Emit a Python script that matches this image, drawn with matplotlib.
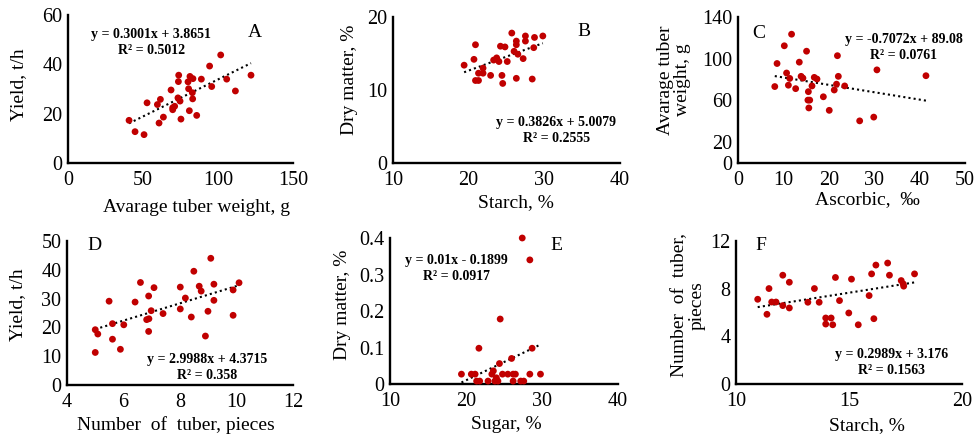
"""
Six-panel scatter grid (A-F): potato tuber traits with linear trendlines.
"""

import numpy as np
import matplotlib
matplotlib.use("Agg")
import matplotlib.pyplot as plt  # noqa: E402

plt.rcParams["font.family"] = ["Liberation Serif", "DejaVu Serif"]

DOT = "#c00000"

# --- A: average tuber weight (g) vs yield (t/h)
a_x = [40.7, 44.7, 50.7, 52.7, 59.6, 61.6, 60.7, 63.6, 68.7, 69.8, 71.1, 73.8,
       73.6, 73.3, 74.7, 75.3, 80.0, 80.4, 81.3, 83.3, 82.9, 83.1, 80.9, 85.8,
       88.9, 94.4, 95.8, 101.8, 105.8, 111.6, 122.0, 69.8]
a_y = [17.3, 12.7, 11.5, 24.4, 23.7, 25.8, 16.2, 18.6, 29.6, 21.6, 23.0, 35.6,
       33.0, 26.4, 25.1, 17.8, 32.9, 30.1, 35.1, 34.2, 28.5, 26.0, 21.2, 19.3,
       34.0, 39.3, 31.0, 43.8, 34.0, 29.2, 35.6, 22.4]
a_fit = (0.3001, 3.8651)

# --- B: starch (%) vs dry matter (%)
b_x = [19.4, 20.7, 20.9, 20.9, 21.3, 21.3, 21.9, 21.9, 22.9, 23.3, 23.7, 24.0,
       24.2, 24.4, 24.5, 24.8, 25.1, 25.7, 26.0, 26.3, 26.3, 26.3, 26.5, 27.2,
       27.5, 27.5, 28.4, 28.6, 28.7, 29.8]
b_y = [13.4, 14.2, 16.2, 11.3, 11.3, 12.3, 12.3, 13.0, 12.0, 14.1, 14.4, 13.9,
       16.0, 12.0, 10.9, 15.9, 13.9, 17.8, 15.3, 16.7, 16.2, 11.6, 14.9, 14.3,
       16.7, 17.4, 11.5, 15.8, 17.2, 17.4]
b_fit = (0.3826, 5.0079)

# --- C: ascorbic (‰) vs average tuber weight (g)
c_x = [8.1, 8.6, 10.2, 10.7, 11.1, 11.4, 11.8, 12.7, 13.5, 13.9, 14.3, 15.1,
       15.4, 15.5, 15.6, 15.8, 16.3, 16.8, 17.4, 18.8, 20.1, 21.2, 21.7, 21.9,
       22.1, 23.5, 26.8, 29.9, 30.6, 41.4]
c_y = [73.3, 95.4, 112.4, 86.3, 74.6, 81.1, 123.5, 71.3, 96.7, 83.1, 81.4, 107.2,
       60.3, 68.4, 52.8, 60.3, 73.9, 82.1, 80.5, 63.5, 50.5, 70.0, 75.6, 102.9,
       83.1, 73.9, 40.4, 44.0, 89.3, 83.7]
c_fit = (-0.7072, 89.08)

# --- D: number of tubers vs yield (t/h)
d_x = [5.0, 5.09, 5.0, 5.49, 5.61, 5.61, 5.89, 6.01, 6.41, 6.6, 6.89, 6.9,
       6.82, 6.89, 6.98, 7.08, 7.4, 8.01, 8.01, 8.19, 8.4, 8.49, 8.68, 8.75,
       8.9, 8.99, 9.09, 9.2, 9.2, 9.88, 9.88, 10.09]
d_y = [19.2, 17.7, 11.3, 29.1, 21.3, 15.9, 12.4, 20.9, 28.8, 35.6, 30.9, 23.0,
       22.7, 18.6, 25.8, 33.8, 24.8, 34.0, 26.4, 30.2, 23.6, 39.5, 34.3, 32.6,
       17.0, 25.6, 44.0, 35.0, 29.4, 33.0, 24.2, 35.5]
d_fit = (2.9988, 4.3715)

# --- E: sugar (%) vs dry matter (%)
e_x = [19.4, 20.7, 21.2, 21.4, 21.8, 21.7, 22.9, 23.4, 23.6, 23.8, 24.0, 24.2,
       24.4, 24.5, 24.8, 25.5, 26.0, 26.2, 26.2, 26.5, 27.2, 27.4, 27.6, 28.4,
       28.4, 28.7, 29.8]
e_y = [0.027, 0.027, 0.027, 0.008, 0.008, 0.098, 0.008, 0.027, 0.036, 0.008,
       0.017, 0.008, 0.056, 0.178, 0.027, 0.027, 0.070, 0.027, 0.008, 0.027,
       0.008, 0.400, 0.008, 0.027, 0.340, 0.098, 0.027]
e_fit = (0.01, -0.1899)

# --- F: starch (%) vs number of tubers
f_x = [10.96, 11.37, 11.46, 11.58, 11.77, 12.07, 12.07, 12.36, 12.36, 13.18,
       13.47, 13.68, 13.97, 13.97, 14.21, 14.28, 14.40, 14.58, 14.99, 15.11,
       15.41, 15.89, 16.0, 16.1, 16.19, 16.71, 16.79, 17.31, 17.42, 17.4, 17.90]
f_y = [7.11, 5.85, 8.01, 6.88, 6.88, 9.13, 6.58, 8.54, 6.38, 6.86, 8.01, 6.86,
       5.54, 5.03, 5.54, 4.97, 8.94, 7.0, 5.96, 8.80, 4.97, 7.42, 9.24, 5.48,
       9.98, 10.15, 9.13, 8.68, 8.21, 8.4, 9.24]
f_fit = (0.2989, 3.176)

W, H = 974, 436


def box(left, right, top, bottom):
    # pixel box (top-left origin) -> figure fraction rect
    return [left / W, (H - bottom) / H, (right - left) / W, (bottom - top) / H]


PANELS = [
    dict(x=a_x, y=a_y, fit=a_fit, rect=box(68, 293, 15, 163), letter="A",
         xlim=(0, 150), xt=[0, 50, 100, 150], ylim=(0, 60), yt=[0, 20, 40, 60],
         xlabel="Avarage tuber weight, g", ylabel="Yield, t/h",
         xl=(0.57, -0.30), yl=(-0.22, 0.53), let=(0.83, 0.885),
         eq=(0.37, 0.91), eqfmt="y = 0.3001x + 3.8651\nR² = 0.5012"),
    dict(x=b_x, y=b_y, fit=b_fit, rect=box(393, 620, 17, 163), letter="B",
         xlim=(10, 40), xt=[10, 20, 30, 40], ylim=(0, 20), yt=[0, 10, 20],
         xlabel="Starch, %", ylabel="Dry matter, %",
         xl=(0.54, -0.27), yl=(-0.19, 0.57), let=(0.84, 0.90),
         eq=(0.72, 0.32), eqfmt="y = 0.3826x + 5.0079\nR² = 0.2555"),
    dict(x=c_x, y=c_y, fit=c_fit, rect=box(738, 965, 17, 163), letter="C",
         xlim=(0, 50), xt=[0, 10, 20, 30, 40, 50], ylim=(0, 140),
         yt=[0, 20, 60, 100, 140],
         xlabel="Ascorbic,  ‰", ylabel="Avarage tuber\nweight, g",
         xl=(0.57, -0.25), yl=(-0.28, 0.57), let=(0.09, 0.885),
         eq=(0.73, 0.89), eqfmt="y = -0.7072x + 89.08\nR² = 0.0761"),
    dict(x=d_x, y=d_y, fit=d_fit, rect=box(67, 293, 241, 385), letter="D",
         xlim=(4, 12), xt=[4, 6, 8, 10, 12], ylim=(0, 50),
         yt=[0, 10, 20, 30, 40, 50],
         xlabel="Number  of  tuber, pieces", ylabel="Yield, t/h",
         xl=(0.48, -0.28), yl=(-0.22, 0.56), let=(0.12, 0.97),
         eq=(0.62, 0.22), eqfmt="y = 2.9988x + 4.3715\nR² = 0.358"),
    dict(x=e_x, y=e_y, fit=e_fit, rect=box(390, 618, 238, 384), letter="E",
         xlim=(10, 40), xt=[10, 20, 30, 40], ylim=(0, 0.4),
         yt=[0, 0.1, 0.2, 0.3, 0.4],
         xlabel="Sugar, %", ylabel="Dry matter, %",
         xl=(0.51, -0.28), yl=(-0.21, 0.54), let=(0.73, 0.95),
         eq=(0.29, 0.89), eqfmt="y = 0.01x - 0.1899\nR² = 0.0917"),
    dict(x=f_x, y=f_y, fit=f_fit, rect=box(736, 962, 241, 384), letter="F",
         xlim=(10, 20), xt=[10, 15, 20], ylim=(0, 12), yt=[0, 4, 8, 12],
         xlabel="Starch, %", ylabel="Number  of  tuber,\npieces",
         xl=(0.58, -0.29), yl=(-0.21, 0.55), let=(0.11, 0.97),
         eq=(0.69, 0.25), eqfmt="y = 0.2989x + 3.176\nR² = 0.1563"),
]


def tick_fmt(v):
    return "0" if v == 0 else (f"{v:g}")


fig = plt.figure(figsize=(W / 100, H / 100), dpi=100)

for p in PANELS:
    ax = fig.add_axes(p["rect"])
    x = np.asarray(p["x"])
    y = np.asarray(p["y"])
    ax.scatter(x, y, s=24, c=DOT, edgecolors="none", zorder=3, clip_on=False)

    slope, icpt = p["fit"]
    xs = np.array([x.min(), x.max()])
    ax.plot(xs, slope * xs + icpt, color="black", ls=(0, (1, 1.5)), lw=1.5,
            zorder=2)

    ax.set_xlim(*p["xlim"])
    ax.set_ylim(*p["ylim"])
    ax.set_xticks(p["xt"])
    ax.set_yticks(p["yt"])
    ax.set_xticklabels([tick_fmt(v) for v in p["xt"]])
    ax.set_yticklabels([tick_fmt(v) for v in p["yt"]])
    ax.tick_params(length=0, labelsize=14.5)
    ax.tick_params(axis="x", pad=6)
    ax.tick_params(axis="y", pad=4)

    for s in ("top", "right"):
        ax.spines[s].set_visible(False)
    for s in ("left", "bottom"):
        ax.spines[s].set_linewidth(1.7)

    ax.set_xlabel(p["xlabel"], fontsize=14)
    ax.set_ylabel(p["ylabel"], fontsize=14, linespacing=1.0)
    ax.xaxis.set_label_coords(*p["xl"])
    ax.yaxis.set_label_coords(*p["yl"])
    ax.xaxis.label.set_va("center")
    ax.yaxis.label.set_va("center")

    ax.text(*p["let"], p["letter"], transform=ax.transAxes, fontsize=14,
            ha="center", va="center")
    ax.text(*p["eq"], p["eqfmt"], transform=ax.transAxes, fontsize=10,
            fontweight="bold", ha="center", va="top", linespacing=1.3)

fig.savefig("out.png", dpi=100)
